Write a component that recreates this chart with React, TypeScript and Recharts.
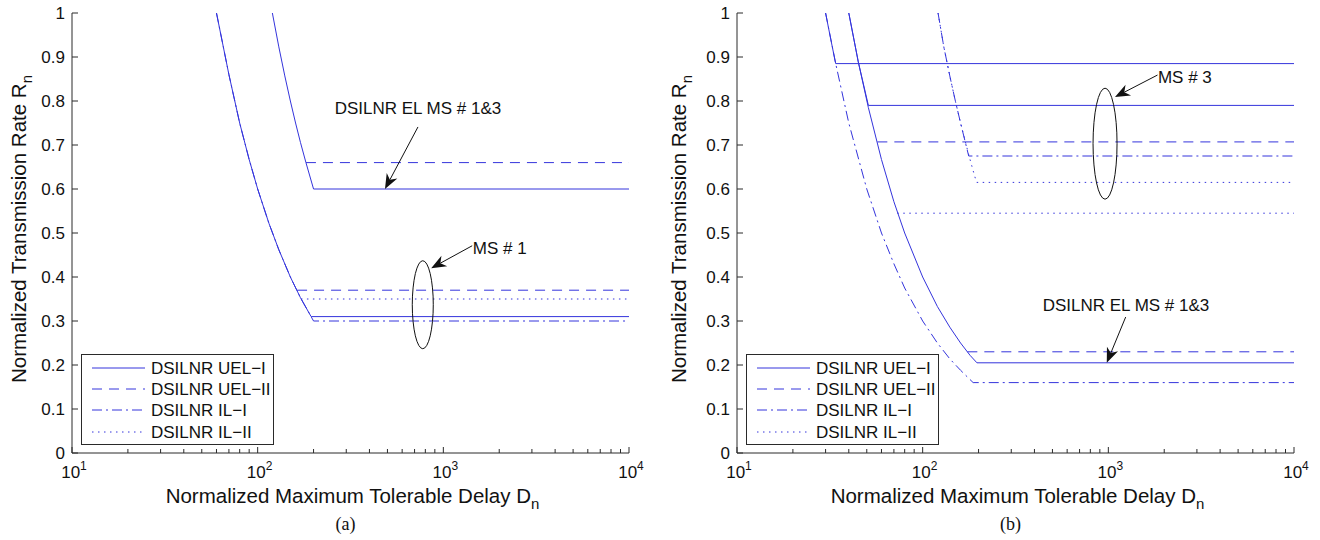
import React from 'react';
import { LineChart, Line, XAxis, YAxis, Legend, ReferenceDot, ReferenceLine } from 'recharts';

// axis ticks
const xTicks = [
  10, 20, 30, 40, 50, 60, 70, 80, 90,
  100, 200, 300, 400, 500, 600, 700, 800, 900,
  1000, 2000, 3000, 4000, 5000, 6000, 7000, 8000, 9000, 10000,
];
const decadeExp: Record<number, string> = { 10: '1', 100: '2', 1000: '3', 10000: '4' };
const yTicks = [0, 0.1, 0.2, 0.3, 0.4, 0.5, 0.6, 0.7, 0.8, 0.9, 1];

const legendNames = ['DSILNR UEL\u2212I', 'DSILNR UEL\u2212II', 'DSILNR IL\u2212I', 'DSILNR IL\u2212II'];
const legendKinds = ['uel1', 'uel2', 'il1', 'il2'];

// panel (a) — delay D, rate R
const aMs1Uel1D = [60, 70, 80, 90, 100, 115, 130, 150, 170, 194, 10000];
const aMs1Uel1R = [1, 0.86, 0.75, 0.667, 0.6, 0.522, 0.462, 0.4, 0.353, 0.31, 0.31];
const aMs1Il1D = [60, 70, 80, 90, 100, 115, 130, 150, 170, 200, 10000];
const aMs1Il1R = [1, 0.86, 0.75, 0.667, 0.6, 0.522, 0.462, 0.4, 0.353, 0.3, 0.3];
const aMs1Uel2D = [163, 10000];
const aMs1Uel2R = [0.37, 0.37];
const aMs1Il2D = [171, 10000];
const aMs1Il2R = [0.35, 0.35];
const aMs3Uel1D = [120, 130, 140, 150, 160, 170, 182, 200, 10000];
const aMs3Uel1R = [1, 0.923, 0.857, 0.8, 0.75, 0.706, 0.66, 0.6, 0.6];
const aMs3Uel2D = [182, 10000];
const aMs3Uel2R = [0.66, 0.66];

// panel (b)
const bTopUel1D = [30, 32, 34, 10000];
const bTopUel1R = [1, 0.94, 0.885, 0.885];
const bMs3Uel1D = [40, 45, 51, 10000];
const bMs3Uel1R = [1, 0.889, 0.79, 0.79];
const bMs1Uel1D = [40, 45, 51, 60, 70, 80, 100, 120, 140, 160, 180, 196, 10000];
const bMs1Uel1R = [1, 0.889, 0.785, 0.667, 0.571, 0.5, 0.4, 0.333, 0.286, 0.25, 0.222, 0.205, 0.205];
const bMs3Uel2D = [57, 10000];
const bMs3Uel2R = [0.707, 0.707];
const bMs1Il2D = [73, 10000];
const bMs1Il2R = [0.545, 0.545];
const bMs1Uel2D = [174, 10000];
const bMs1Uel2R = [0.23, 0.23];
const bMs1Il1D = [30, 34, 40, 50, 60, 70, 80, 100, 120, 140, 160, 187, 10000];
const bMs1Il1R = [1, 0.885, 0.75, 0.6, 0.5, 0.43, 0.375, 0.3, 0.25, 0.214, 0.188, 0.16, 0.16];
const bMs3Il1D = [121, 130, 140, 150, 160, 177, 10000];
const bMs3Il1R = [1, 0.923, 0.857, 0.8, 0.75, 0.675, 0.675];
const bMs3Il2D = [121, 130, 140, 150, 160, 177, 186, 195, 10000];
const bMs3Il2R = [1, 0.923, 0.857, 0.8, 0.75, 0.678, 0.645, 0.615, 0.615];

const BLUE = '#3434dc';
const AXIS = '#2a2a2a';
const INK = '#111';
const FONT = '"Liberation Sans", Arial, sans-serif';

const dashes: Record<string, string | undefined> = {
  uel1: undefined,
  uel2: '10 7',
  il1: '10 4 2 4',
  il2: '1.5 4.5',
};

const zip = (d: number[], r: number[]) => d.map((v, i) => ({ d: v, r: r[i] }));

// drawn back to front so solid lines stay on top
const seriesA = [
  { id: 'a1', kind: 'il2', data: zip(aMs1Il2D, aMs1Il2R) },
  { id: 'a2', kind: 'il1', data: zip(aMs1Il1D, aMs1Il1R) },
  { id: 'a3', kind: 'uel2', data: zip(aMs1Uel2D, aMs1Uel2R) },
  { id: 'a4', kind: 'uel2', data: zip(aMs3Uel2D, aMs3Uel2R) },
  { id: 'a5', kind: 'uel1', data: zip(aMs1Uel1D, aMs1Uel1R) },
  { id: 'a6', kind: 'uel1', data: zip(aMs3Uel1D, aMs3Uel1R) },
];

const seriesB = [
  { id: 'b1', kind: 'il2', data: zip(bMs1Il2D, bMs1Il2R) },
  { id: 'b2', kind: 'il2', data: zip(bMs3Il2D, bMs3Il2R) },
  { id: 'b3', kind: 'il1', data: zip(bMs1Il1D, bMs1Il1R) },
  { id: 'b4', kind: 'il1', data: zip(bMs3Il1D, bMs3Il1R) },
  { id: 'b5', kind: 'uel2', data: zip(bMs3Uel2D, bMs3Uel2R) },
  { id: 'b6', kind: 'uel2', data: zip(bMs1Uel2D, bMs1Uel2R) },
  { id: 'b7', kind: 'uel1', data: zip(bTopUel1D, bTopUel1R) },
  { id: 'b8', kind: 'uel1', data: zip(bMs3Uel1D, bMs3Uel1R) },
  { id: 'b9', kind: 'uel1', data: zip(bMs1Uel1D, bMs1Uel1R) },
];

function BottomTick({ x, y, payload }: any) {
  const exp = decadeExp[payload.value];
  return (
    <g>
      <line x1={x} y1={y} x2={x} y2={y - (exp ? 6 : 4)} stroke={AXIS} />
      {exp && (
        <text x={x + 2} y={y + 25} textAnchor="middle" fontSize={17} fill={INK} fontFamily={FONT}>
          10<tspan dy={-8} fontSize={12}>{exp}</tspan>
        </text>
      )}
    </g>
  );
}

function TopTick({ x, y, payload }: any) {
  const major = decadeExp[payload.value];
  return <line x1={x} y1={y} x2={x} y2={y + (major ? 6 : 4)} stroke={AXIS} />;
}

function LeftTick({ x, y, payload }: any) {
  const v = payload.value;
  const txt = v === 0 ? '0' : v === 1 ? '1' : v.toFixed(1);
  return (
    <g>
      <line x1={x} y1={y} x2={x + 6} y2={y} stroke={AXIS} />
      <text x={x - 7} y={y} dy="0.36em" textAnchor="end" fontSize={17} fill={INK} fontFamily={FONT}>
        {txt}
      </text>
    </g>
  );
}

function RightTick({ x, y }: any) {
  return <line x1={x} y1={y} x2={x - 6} y2={y} stroke={AXIS} />;
}

function ArrowShape({ x1, y1, x2, y2 }: any) {
  const ang = Math.atan2(y2 - y1, x2 - x1);
  const len = 15;
  const w = 6;
  const c = Math.cos(ang);
  const s = Math.sin(ang);
  const bx = x2 - len * c;
  const by = y2 - len * s;
  const nx = x2 - len * 0.7 * c;
  const ny = y2 - len * 0.7 * s;
  return (
    <g>
      <line x1={x1} y1={y1} x2={nx} y2={ny} stroke={INK} strokeWidth={1} />
      <polygon
        points={`${x2},${y2} ${bx - s * w},${by + c * w} ${nx},${ny} ${bx + s * w},${by - c * w}`}
        fill={INK}
      />
    </g>
  );
}

const ellipseShape = (rx: number, ry: number) => (p: any) => (
  <ellipse cx={p.cx} cy={p.cy} rx={rx} ry={ry} fill="none" stroke={INK} strokeWidth={1} />
);

const textShape = (label: string, anchor: 'start' | 'middle') => (p: any) => (
  <text x={p.cx} y={p.cy} dy="0.36em" textAnchor={anchor} fontSize={17} fill={INK} fontFamily={FONT}>
    {label}
  </text>
);

function LegendBox() {
  const rows = [14, 35, 56, 78];
  return (
    <div style={{ width: 193, height: 91, border: `1px solid ${AXIS}`, background: '#fff', boxSizing: 'border-box' }}>
      <svg width={191} height={89} style={{ display: 'block' }}>
        {legendNames.map((name, i) => (
          <g key={name}>
            <line x1={10} x2={63} y1={rows[i] - 1} y2={rows[i] - 1} stroke={BLUE} strokeDasharray={dashes[legendKinds[i]]} />
            <text x={69} y={rows[i] - 1} dy="0.36em" fontSize={17} fill={INK} fontFamily={FONT}>
              {name}
            </text>
          </g>
        ))}
      </svg>
    </div>
  );
}

interface PanelProps {
  series: { id: string; kind: string; data: { d: number; r: number }[] }[];
  yAxisWidth: number;
  marginRight: number;
  legendLeft: number;
  caption: string;
  children?: React.ReactNode;
}

function Panel({ series, yAxisWidth, marginRight, legendLeft, caption, children }: PanelProps) {
  return (
    <LineChart width={660} height={540} margin={{ top: 13, right: marginRight, bottom: 0, left: 0 }}>
      <XAxis
        xAxisId="b"
        dataKey="d"
        type="number"
        scale="log"
        domain={[10, 10000]}
        ticks={xTicks}
        interval={0}
        allowDataOverflow
        tickSize={0}
        tickMargin={0}
        tickLine={false}
        axisLine={{ stroke: AXIS }}
        tick={(p: any) => <BottomTick {...p} />}
        height={87}
        label={{
          content: (p: any) => {
            const vb = p.viewBox;
            const cx = vb.x + vb.width / 2;
            return (
              <g>
                <text x={cx + 2} y={vb.y + 50} textAnchor="middle" fontSize={20.5} fill={INK} fontFamily={FONT}>
                  Normalized Maximum Tolerable Delay D<tspan dy={6} fontSize={15}>n</tspan>
                </text>
                <text x={cx - 5} y={vb.y + 77} textAnchor="middle" fontSize={18} fill={INK} fontFamily='"Liberation Serif", serif'>
                  {caption}
                </text>
              </g>
            );
          },
        }}
      />
      <XAxis
        xAxisId="t"
        orientation="top"
        dataKey="d"
        type="number"
        scale="log"
        domain={[10, 10000]}
        ticks={xTicks}
        interval={0}
        allowDataOverflow
        tickSize={0}
        tickMargin={0}
        tickLine={false}
        axisLine={{ stroke: AXIS }}
        tick={(p: any) => <TopTick {...p} />}
        height={0}
      />
      <YAxis
        yAxisId="l"
        type="number"
        domain={[0, 1]}
        ticks={yTicks}
        interval={0}
        allowDataOverflow
        tickSize={0}
        tickMargin={0}
        tickLine={false}
        axisLine={{ stroke: AXIS }}
        tick={(p: any) => <LeftTick {...p} />}
        width={yAxisWidth}
        label={{
          content: (p: any) => {
            const vb = p.viewBox;
            const x = vb.x + 26;
            const y = vb.y + vb.height / 2 - 4;
            return (
              <text x={x} y={y} transform={`rotate(-90 ${x} ${y})`} textAnchor="middle" fontSize={20.5} fill={INK} fontFamily={FONT}>
                Normalized Transmission Rate R<tspan dy={6} fontSize={15}>n</tspan>
              </text>
            );
          },
        }}
      />
      <YAxis
        yAxisId="r"
        orientation="right"
        type="number"
        domain={[0, 1]}
        ticks={yTicks}
        interval={0}
        allowDataOverflow
        tickSize={0}
        tickMargin={0}
        tickLine={false}
        axisLine={{ stroke: AXIS }}
        tick={(p: any) => <RightTick {...p} />}
        width={0}
      />
      {series.map((s) => (
        <Line
          key={s.id}
          xAxisId="b"
          yAxisId="l"
          data={s.data}
          dataKey="r"
          type="linear"
          stroke={BLUE}
          strokeWidth={1}
          strokeDasharray={dashes[s.kind]}
          dot={false}
          activeDot={false}
          isAnimationActive={false}
        />
      ))}
      {children}
      <Legend
        layout="vertical"
        align="center"
        verticalAlign="middle"
        content={() => <LegendBox />}
        wrapperStyle={{ left: legendLeft, top: 354, width: 193, height: 91 }}
      />
    </LineChart>
  );
}

export default function App() {
  return (
    <div style={{ position: 'absolute', left: 0, top: 0, width: 1320, height: 540, background: '#fff', display: 'flex' }}>
      <Panel series={seriesA} yAxisWidth={72} marginRight={31} legendLeft={81} caption="(a)">
        <ReferenceDot xAxisId="b" yAxisId="l" x={730} y={0.784} shape={textShape('DSILNR EL MS # 1&3', 'middle')} />
        <ReferenceLine xAxisId="b" yAxisId="l" segment={[{ x: 730, y: 0.741 }, { x: 485, y: 0.6 }]} shape={(p: any) => <ArrowShape {...p} />} />
        <ReferenceDot xAxisId="b" yAxisId="l" x={1440} y={0.466} shape={textShape('MS # 1', 'start')} />
        <ReferenceLine xAxisId="b" yAxisId="l" segment={[{ x: 1430, y: 0.471 }, { x: 860, y: 0.42 }]} shape={(p: any) => <ArrowShape {...p} />} />
        <ReferenceDot xAxisId="b" yAxisId="l" x={775} y={0.337} shape={ellipseShape(10.5, 44)} />
      </Panel>
      <Panel series={seriesB} yAxisWidth={77} marginRight={26} legendLeft={86} caption="(b)">
        <ReferenceDot xAxisId="b" yAxisId="l" x={1850} y={0.855} shape={textShape('MS # 3', 'start')} />
        <ReferenceLine xAxisId="b" yAxisId="l" segment={[{ x: 1840, y: 0.859 }, { x: 1086, y: 0.809 }]} shape={(p: any) => <ArrowShape {...p} />} />
        <ReferenceDot xAxisId="b" yAxisId="l" x={960} y={0.703} shape={ellipseShape(12, 55.5)} />
        <ReferenceDot xAxisId="b" yAxisId="l" x={1245} y={0.336} shape={textShape('DSILNR EL MS # 1&3', 'middle')} />
        <ReferenceLine xAxisId="b" yAxisId="l" segment={[{ x: 1240, y: 0.309 }, { x: 981, y: 0.205 }]} shape={(p: any) => <ArrowShape {...p} />} />
      </Panel>
    </div>
  );
}
